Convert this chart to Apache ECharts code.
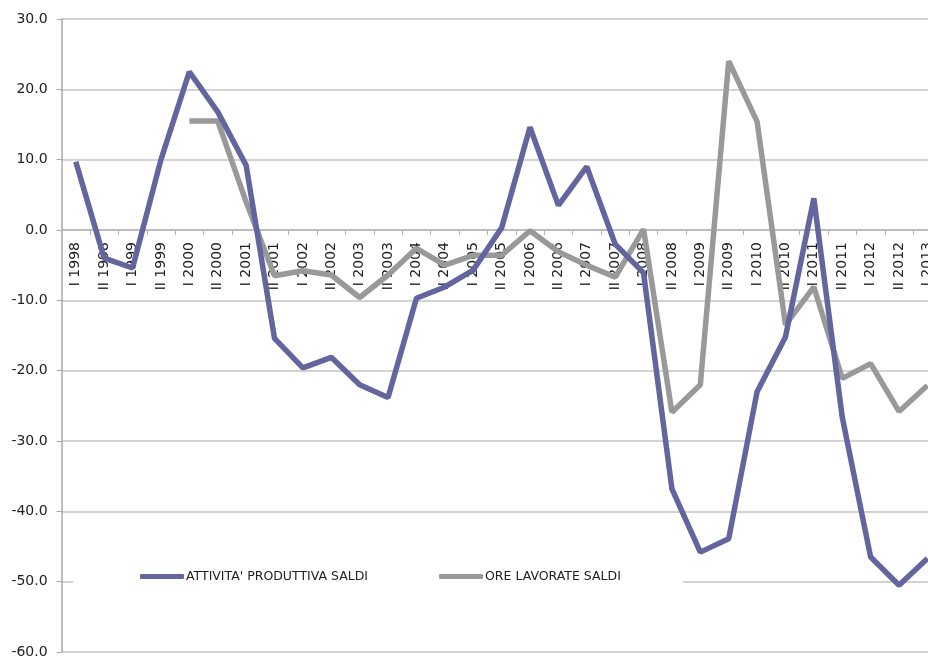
<!DOCTYPE html>
<html>
<head>
<meta charset="utf-8">
<script src="https://cdn.jsdelivr.net/npm/echarts@6/dist/echarts.min.js"></script>
<style>
  html, body { margin: 0; padding: 0; background: #fff; }
  #chart { width: 928px; height: 659px; }
</style>
</head>
<body>
<div id="chart"></div>
<script>
// Half-year periods
const periods = [
  'I 1998', 'II 1998', 'I 1999', 'II 1999', 'I 2000', 'II 2000',
  'I 2001', 'II 2001', 'I 2002', 'II 2002', 'I 2003', 'II 2003',
  'I 2004', 'II 2004', 'I 2005', 'II 2005', 'I 2006', 'II 2006',
  'I 2007', 'II 2007', 'I 2008', 'II 2008', 'I 2009', 'II 2009',
  'I 2010', 'II 2010', 'I 2011', 'II 2011', 'I 2012', 'II 2012',
  'I 2013'
];

// Balance of answers: production activity
const attivitaProduttiva = [
  9.7, -4.0, -5.4, 10.0, 22.5, 16.8,
  9.2, -15.4, -19.6, -18.1, -22.0, -23.8,
  -9.7, -8.1, -5.7, 0.3, 14.6, 3.5,
  9.0, -2.0, -6.1, -36.8, -45.8, -43.9,
  -23.0, -15.2, 4.5, -26.6, -46.5, -50.5,
  -46.7
];

// Balance of answers: hours worked (series starts in 2000)
const oreLavorate = [
  null, null, null, null, 15.5, 15.5,
  4.0, -6.5, -5.8, -6.4, -9.6, -6.4,
  -2.6, -5.0, -3.6, -3.6, -0.1, -3.1,
  -5.0, -6.7, 0.1, -25.9, -22.0, 24.0,
  15.4, -13.5, -8.1, -21.1, -19.0, -25.8,
  -22.1
];

const yTicks = { min: -60, max: 30, step: 10 };

const FONT = 'DejaVu Sans';
const GRID = { left: 61.6, top: 19, width: 880, height: 633 };
// the category axis crosses the value axis at 0
const zeroOffset = -GRID.height * (0 - yTicks.min) / (yTicks.max - yTicks.min);

const chart = echarts.init(document.getElementById('chart'), null, { renderer: 'canvas' });

chart.setOption({
  animation: false,
  backgroundColor: '#ffffff',
  textStyle: { fontFamily: FONT },
  grid: Object.assign({ containLabel: false, outerBoundsMode: 'none' }, GRID),
  legend: {
    left: 73,
    top: 564,
    padding: [6, 62, 6, 67],
    itemGap: 71,
    itemWidth: 44,
    itemHeight: 5,
    icon: 'roundRect',
    backgroundColor: '#ffffff',
    textStyle: { fontFamily: FONT, fontSize: 12.5, color: '#222', padding: [0, 0, 0, -3] },
    data: ["ATTIVITA' PRODUTTIVA SALDI", 'ORE LAVORATE SALDI']
  },
  xAxis: {
    type: 'category',
    data: periods,
    position: 'bottom',
    offset: zeroOffset,
    boundaryGap: true,
    axisLine: { onZero: false, lineStyle: { color: '#b5b5b5', width: 1.5 } },
    axisTick: { show: true, length: 5, lineStyle: { color: '#b5b5b5' } },
    axisLabel: {
      rotate: 90,
      interval: 0,
      margin: 12,
      fontFamily: FONT,
      fontSize: 14,
      color: '#222'
    },
    splitLine: { show: false }
  },
  yAxis: {
    type: 'value',
    min: yTicks.min,
    max: yTicks.max,
    interval: yTicks.step,
    axisLine: { show: true, lineStyle: { color: '#a8a8a8', width: 1.5 } },
    axisTick: { show: true, length: 5, lineStyle: { color: '#a8a8a8' } },
    axisLabel: {
      margin: 14,
      fontFamily: FONT,
      fontSize: 14,
      color: '#222',
      formatter: v => v.toFixed(1)
    },
    splitLine: { show: true, lineStyle: { color: '#c4c4c4', width: 1.5 } }
  },
  series: [
    {
      name: "ATTIVITA' PRODUTTIVA SALDI",
      type: 'line',
      data: attivitaProduttiva,
      symbol: 'none',
      showSymbol: false,
      color: '#64659e',
      lineStyle: { color: '#64659e', width: 5.5 },
      z: 3
    },
    {
      name: 'ORE LAVORATE SALDI',
      type: 'line',
      data: oreLavorate,
      symbol: 'none',
      showSymbol: false,
      connectNulls: false,
      color: '#999999',
      lineStyle: { color: '#999999', width: 5.5 },
      z: 2
    }
  ]
});
</script>
</body>
</html>
